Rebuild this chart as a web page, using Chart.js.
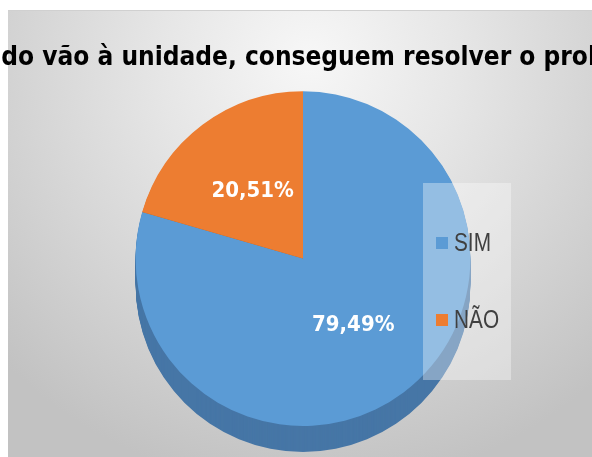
<!DOCTYPE html>
<html><head><meta charset="utf-8">
<script src="https://cdn.jsdelivr.net/npm/chart.js@4/dist/chart.umd.min.js"></script>
<style>html,body{margin:0;padding:0;background:#fff;overflow:hidden}#wrap{position:relative;width:592px;height:457px;overflow:hidden}#c{position:absolute;left:0;top:0}</style>
</head><body><div id="wrap"><canvas id="c" width="606" height="457"></canvas></div>
<script>
const titleText = 'do vão à unidade, conseguem resolver o prob';
const categories = ['SIM', 'NÃO'];
const values = [79.49, 20.51];
const colors = ['#5B9BD5', '#ED7D31'];
const sideColors = ['#4676A6', '#B25E24'];

const DEPTH = 26;

const bgPlugin = {
  id: 'bg',
  beforeDraw(chart) {
    const ctx = chart.ctx;
    ctx.save();
    ctx.fillStyle = '#ffffff';
    ctx.fillRect(0, 0, chart.width, chart.height);
    const g = ctx.createRadialGradient(310, 60, 0, 310, 60, 430);
    g.addColorStop(0, '#f7f7f7');
    g.addColorStop(0.35, '#e6e6e6');
    g.addColorStop(0.75, '#d0d0d0');
    g.addColorStop(1, '#c2c2c2');
    ctx.fillStyle = g;
    ctx.fillRect(8, 10, chart.width - 8, chart.height - 10);
    ctx.strokeStyle = '#d0d0d0';
    ctx.lineWidth = 1;
    ctx.beginPath();
    ctx.moveTo(8, 10.5); ctx.lineTo(chart.width, 10.5);
    ctx.stroke();
    ctx.restore();
  }
};

const sidePlugin = {
  id: 'side3d',
  beforeDatasetsDraw(chart) {
    const ctx = chart.ctx;
    const meta = chart.getDatasetMeta(0);
    ctx.save();
    for (let t = DEPTH; t >= 1; t--) {
      meta.data.forEach((arc, i) => {
        const p = arc.getProps(['x', 'y', 'startAngle', 'endAngle', 'outerRadius'], true);
        ctx.fillStyle = sideColors[i];
        ctx.beginPath();
        ctx.moveTo(p.x, p.y + t);
        ctx.arc(p.x, p.y + t, p.outerRadius, p.startAngle, p.endAngle);
        ctx.closePath();
        ctx.fill();
      });
    }
    ctx.restore();
  }
};

const labelPlugin = {
  id: 'vlabels',
  afterDatasetsDraw(chart) {
    const ctx = chart.ctx;
    const meta = chart.getDatasetMeta(0);
    ctx.save();
    ctx.fillStyle = '#ffffff';
    ctx.font = 'bold 22px "DejaVu Sans Condensed", "DejaVu Sans", sans-serif';
    ctx.textAlign = 'center';
    ctx.textBaseline = 'middle';
    meta.data.forEach((arc, i) => {
      const pos = arc.tooltipPosition(true);
      const txt = values[i].toFixed(2).replace('.', ',') + '%';
      ctx.fillText(txt, pos.x, pos.y);
    });
    ctx.restore();
  }
};

const legendPlugin = {
  id: 'boxLegend',
  afterDraw(chart) {
    const ctx = chart.ctx;
    ctx.save();
    ctx.fillStyle = 'rgba(255,255,255,0.35)';
    ctx.fillRect(423, 183, 88, 197);
    const rows = [243, 320];
    ctx.textBaseline = 'middle';
    ctx.textAlign = 'left';
    categories.forEach((c, i) => {
      ctx.fillStyle = colors[i];
      ctx.fillRect(436, rows[i] - 6, 12, 12);
      ctx.save();
      ctx.translate(454, rows[i] + 1);
      ctx.scale(0.8, 1);
      ctx.font = '26px "Liberation Sans", "DejaVu Sans", sans-serif';
      ctx.fillStyle = '#404040';
      ctx.fillText(c, 0, 0);
      ctx.restore();
    });
    ctx.restore();
  }
};

new Chart(document.getElementById('c'), {
  type: 'pie',
  data: {
    labels: categories,
    datasets: [{
      data: values,
      backgroundColor: colors,
      borderWidth: 0,
      hoverOffset: 0
    }]
  },
  options: {
    responsive: false,
    animation: false,
    events: [],
    layout: { padding: { left: 0, right: 0, top: 0, bottom: 31 } },
    plugins: {
      legend: { display: false },
      tooltip: { enabled: false },
      title: {
        display: true,
        text: titleText,
        color: '#000000',
        font: { family: '"DejaVu Sans Condensed", "DejaVu Sans", sans-serif', weight: 'bold', size: 26 },
        padding: { top: 43, bottom: 17 }
      }
    }
  },
  plugins: [bgPlugin, sidePlugin, labelPlugin, legendPlugin]
});
</script>
</body></html>
